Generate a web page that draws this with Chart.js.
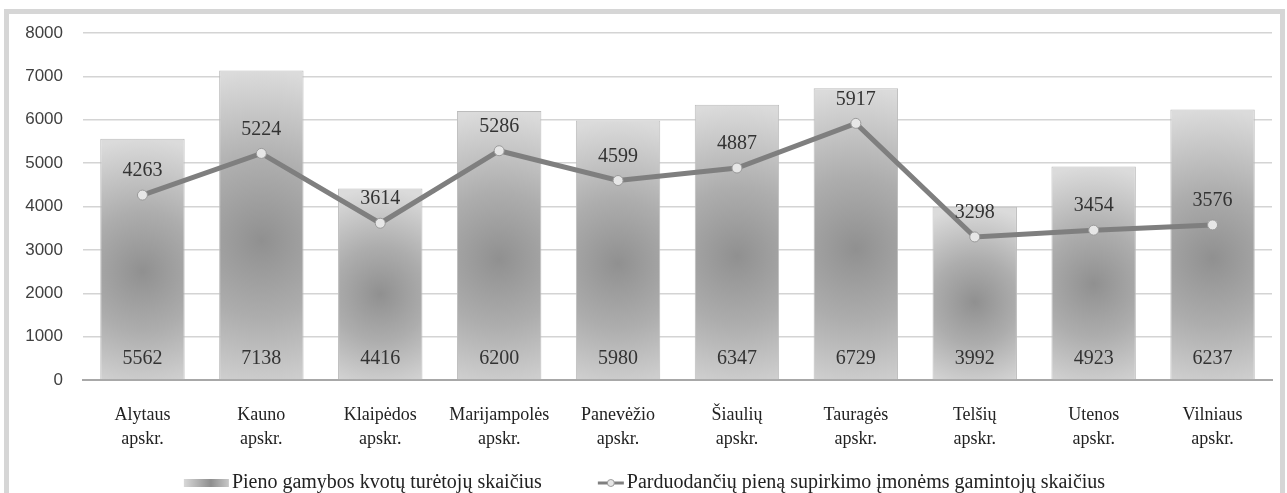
<!DOCTYPE html>
<html>
<head>
<meta charset="utf-8">
<script src="https://cdn.jsdelivr.net/npm/chart.js@4.4.0/dist/chart.umd.min.js"></script>
<style>
  html, body { margin: 0; padding: 0; background: #fff; overflow: hidden; }
  #frame {
    position: absolute; left: 4px; top: 9px;
    width: 1271px; height: 479px;
    border: 5px solid #d6d6d6; border-bottom: none;
    background: #fff;
  }
  #frame canvas { display: block; }
</style>
</head>
<body>
<div id="frame"><canvas id="grafico" width="1271" height="479"></canvas></div>
<script>
// ===================== DADOS =====================
const apskritys = [
  ["Alytaus", "apskr."], ["Kauno", "apskr."], ["Klaipėdos", "apskr."],
  ["Marijampolės", "apskr."], ["Panevėžio", "apskr."], ["Šiaulių", "apskr."],
  ["Tauragės", "apskr."], ["Telšių", "apskr."], ["Utenos", "apskr."],
  ["Vilniaus", "apskr."]
];
const kvotuTuretojai = [5562, 7138, 4416, 6200, 5980, 6347, 6729, 3992, 4923, 6237];
const gamintojai = [4263, 5224, 3614, 5286, 4599, 4887, 5917, 3298, 3454, 3576];
const yTicks = [0, 1000, 2000, 3000, 4000, 5000, 6000, 7000, 8000];
const legendaTekstai = [
  "Pieno gamybos kvotų turėtojų skaičius",
  "Parduodančių pieną supirkimo įmonėms gamintojų skaičius"
];

const SERIF = '"Liberation Serif", "Times New Roman", serif';

// gradiente radial das barras
function barFill(c) {
  const chart = c.chart;
  if (!chart.chartArea || c.type !== "data") return "#b4b4b4";
  const x = chart.scales.x.getPixelForValue(c.dataIndex);
  const top = chart.scales.y.getPixelForValue(c.raw);
  const base = chart.scales.y.getPixelForValue(0);
  const cy = top + (base - top) * 0.55;
  const r = Math.max((base - top) * 0.55, 70);
  const g = chart.ctx.createRadialGradient(x, cy, 0, x, cy, r);
  g.addColorStop(0, "#909090");
  g.addColorStop(0.45, "#adadad");
  g.addColorStop(1, "#dbdbdb");
  return g;
}

// ===================== RÓTULOS =====================
const rotulos = {
  id: "rotulos",
  afterDatasetsDraw(chart) {
    const ctx = chart.ctx;
    const barras = chart.getDatasetMeta(0).data;
    const pontos = chart.getDatasetMeta(1).data;
    const base = chart.scales.y.getPixelForValue(0);
    ctx.save();
    ctx.font = "20px " + SERIF;
    ctx.fillStyle = "#333";
    ctx.textAlign = "center";
    ctx.textBaseline = "middle";
    barras.forEach((b, i) => {
      ctx.fillText(String(kvotuTuretojai[i]), b.x, base - 21);
    });
    pontos.forEach((p, i) => {
      ctx.fillText(String(gamintojai[i]), p.x, p.y - 24);
    });
    ctx.restore();
  }
};

// ===================== LEGENDA =====================
const legenda = {
  id: "legenda",
  afterDraw(chart) {
    const ctx = chart.ctx;
    ctx.save();
    ctx.font = "20px " + SERIF;
    const w1 = ctx.measureText(legendaTekstai[0]).width;
    const w2 = ctx.measureText(legendaTekstai[1]).width;
    const sw1 = 45, sw2 = 26, gap = 3, between = 56;
    const total = sw1 + gap + w1 + between + sw2 + gap + w2;
    let x = (chart.width - total) / 2;
    const y = 469;

    const g = ctx.createLinearGradient(x, 0, x + sw1, 0);
    g.addColorStop(0, "#d8d8d8");
    g.addColorStop(0.6, "#8e8e8e");
    g.addColorStop(1, "#c8c8c8");
    ctx.fillStyle = g;
    ctx.fillRect(x, y - 4, sw1, 8);
    x += sw1 + gap;
    ctx.fillStyle = "#222";
    ctx.textBaseline = "middle";
    ctx.fillText(legendaTekstai[0], x, y);
    x += w1 + between;

    ctx.strokeStyle = "#7f7f7f";
    ctx.lineWidth = 3;
    ctx.beginPath();
    ctx.moveTo(x, y);
    ctx.lineTo(x + sw2, y);
    ctx.stroke();
    ctx.beginPath();
    ctx.arc(x + sw2 / 2, y, 3.5, 0, Math.PI * 2);
    ctx.fillStyle = "#e6e6e6";
    ctx.fill();
    ctx.lineWidth = 1;
    ctx.strokeStyle = "#999";
    ctx.stroke();
    x += sw2 + gap;
    ctx.fillStyle = "#222";
    ctx.fillText(legendaTekstai[1], x, y);
    ctx.restore();
  }
};

// ===================== GRÁFICO =====================
new Chart(document.getElementById("grafico"), {
  data: {
    labels: apskritys,
    datasets: [
      {
        type: "bar",
        label: legendaTekstai[0],
        data: kvotuTuretojai,
        backgroundColor: barFill,
        borderColor: "#bcbcbc",
        borderWidth: 1,
        barPercentage: 0.71,
        categoryPercentage: 1,
        order: 2
      },
      {
        type: "line",
        label: legendaTekstai[1],
        data: gamintojai,
        borderColor: "#7f7f7f",
        borderWidth: 5,
        tension: 0,
        pointRadius: 5,
        pointBackgroundColor: "#e6e6e6",
        pointBorderColor: "#9a9a9a",
        pointBorderWidth: 1,
        order: 1
      }
    ]
  },
  options: {
    responsive: false,
    animation: false,
    layout: { padding: { top: 19, right: 8, left: 0, bottom: 0 } },
    plugins: {
      legend: { display: false },
      tooltip: { enabled: false }
    },
    scales: {
      x: {
        grid: { display: false },
        border: { display: true, color: "#a8a8a8", width: 2 },
        ticks: {
          color: "#222",
          font: { family: SERIF, size: 18, lineHeight: 1.35 },
          padding: 15,
          maxRotation: 0,
          autoSkip: false
        },
        afterFit(scale) { scale.height = 113; }
      },
      y: {
        min: 0,
        max: 8000,
        afterBuildTicks(scale) { scale.ticks = yTicks.map((v) => ({ value: v })); },
        grid: { color: "#d4d4d4", lineWidth: 1.5, drawTicks: false },
        border: { display: false },
        ticks: {
          color: "#404040",
          font: { family: '"Liberation Sans", Arial, sans-serif', size: 17 },
          padding: 20,
          callback: (v) => String(v)
        },
        afterFit(scale) {
          scale.width = 74;
          scale.paddingTop = 0;
          scale.paddingBottom = 0;
        }
      }
    }
  },
  plugins: [rotulos, legenda]
});
</script>
</body>
</html>
